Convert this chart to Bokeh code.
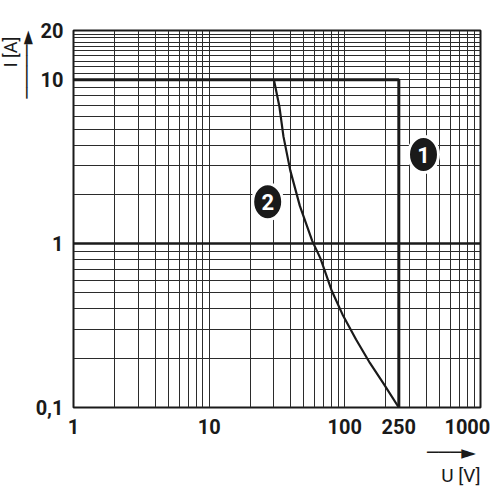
import math
from bokeh.plotting import figure
from bokeh.models import FixedTicker, CustomJSTickFormatter, Grid, Title
from bokeh.embed import file_html
from bokeh.resources import INLINE
from bokeh.core.properties import value

# ---- data ----
x_ticks = [1, 10, 100, 250, 1000]
x_grid_major = [1, 10, 100, 1000]
x_minor = [2, 3, 4, 5, 6, 7, 8, 9,
           20, 30, 40, 50, 60, 70, 80, 90,
           200, 300, 400, 500, 600, 700, 800, 900]
y_ticks = [0.1, 1, 10, 20]
y_minor = [0.2, 0.3, 0.4, 0.5, 0.6, 0.7, 0.8, 0.9,
           2, 3, 4, 5, 6, 7, 8, 9,
           11, 12, 13, 14, 15, 16, 17, 18, 19]

# curve 1: limit rectangle (U <= 250 V, I <= 10 A)
curve1_u = [1, 250, 250]
curve1_i = [10, 10, 0.1]

# curve 2
curve2_u = [30, 32.9, 35.3, 39.6, 46.6, 57.5, 66.2, 79.8, 96.1, 121, 153, 193, 250]
curve2_i = [10, 6.9, 4.5, 2.8, 1.7, 1.04, 0.81, 0.52, 0.37, 0.26, 0.187, 0.14, 0.1]

marker_names = ["1", "2"]
marker_u = [380, 27]
marker_i = [3.5, 1.8]

x_title = "U [V]"
y_title = "I [A]"

FONT = "Roboto"
TITLE_FONT = "Roboto, DejaVu Sans"
INK = "#1a1a1a"
W, H = 500, 500
FL, FR, FT, FB = 73, 480, 30, 407   # frame edges in pixels
NB = "\u00a0"                       # non-breaking space (right-aligns a line)
LINE, HEAD = "\u2500", "\u25BA"     # arrow drawn from text glyphs

p = figure(width=W, height=H, x_axis_type="log", y_axis_type="log",
           x_range=(1, 1000), y_range=(0.1, 20),
           output_backend="svg", toolbar_location=None,
           min_border_left=FL, min_border_right=W - FR,
           min_border_top=FT, min_border_bottom=H - FB)
p.background_fill_color = "white"
p.border_fill_color = "white"
p.outline_line_color = INK
p.outline_line_width = 2

fmt = CustomJSTickFormatter(code="""
if (tick >= 1000) { return "1000\u2002"; }
return String(tick).replace('.', ',');
""")

for ax, tk in ((p.xaxis[0], x_ticks), (p.yaxis[0], y_ticks)):
    ax.ticker = FixedTicker(ticks=tk, minor_ticks=[])
    ax.formatter = fmt
    ax.axis_line_color = None
    ax.major_tick_line_color = None
    ax.minor_tick_line_color = None
    ax.major_label_text_font = FONT
    ax.major_label_text_font_style = "bold"
    ax.major_label_text_font_size = "20px"
    ax.major_label_text_color = INK
p.xaxis.major_label_standoff = 1
p.yaxis.major_label_standoff = 4

p.xgrid.ticker = FixedTicker(ticks=x_grid_major, minor_ticks=x_minor)
p.xgrid.grid_line_color = "#2b2b2b"
p.xgrid.grid_line_width = 1
p.xgrid.minor_grid_line_color = "#2b2b2b"
p.xgrid.minor_grid_line_width = 1

p.ygrid.ticker = FixedTicker(ticks=y_ticks, minor_ticks=y_minor)
p.ygrid.grid_line_color = "#2b2b2b"
p.ygrid.grid_line_width = 1
p.ygrid.minor_grid_line_color = "#2b2b2b"
p.ygrid.minor_grid_line_width = 1

g1 = Grid(dimension=1, ticker=FixedTicker(ticks=[1]), grid_line_color=INK,
          grid_line_width=2.5)
p.add_layout(g1, "center")

p.line(curve1_u, curve1_i, line_color=INK, line_width=3)
p.line(curve2_u, curve2_i, line_color=INK, line_width=2.2)

p.ellipse(x=marker_u, y=marker_i, width=30, height=36,
          width_units="screen", height_units="screen",
          fill_color=INK, line_color="white", line_width=3)
p.text(x=marker_u, y=marker_i, text=marker_names, text_color="white",
       text_font=value(FONT), text_font_style="bold", text_font_size="22px",
       text_align="center", text_baseline="middle")

# axis titles with their arrows (side-panel titles, two lines each)
p.add_layout(Title(text=NB * 7 + y_title + "\n" + LINE * 5 + HEAD,
                   align="right", vertical_align="top", standoff=-14,
                   text_font=TITLE_FONT, text_font_style="normal",
                   text_font_size="18px", text_line_height=0.8,
                   text_color=INK), "left")
p.add_layout(Title(text=LINE * 3 + HEAD + "\n" + NB * 3 + x_title,
                   align="right", standoff=-5,
                   text_font=TITLE_FONT, text_font_style="normal",
                   text_font_size="19px", text_line_height=1.0,
                   text_color=INK), "below")

open("out.html", "w").write(file_html(p, INLINE))
